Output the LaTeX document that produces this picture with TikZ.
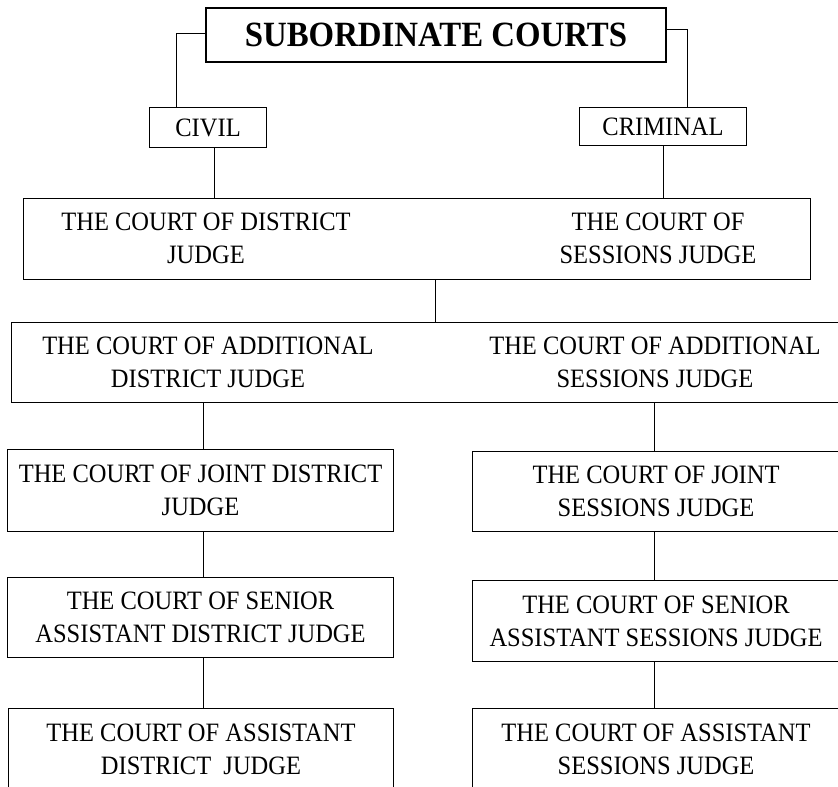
\documentclass[tikz,border=0pt]{standalone}
\usepackage{fontspec}
\setmainfont{Liberation Serif}[FakeStretch=0.925]
\begin{document}
\begin{tikzpicture}[x=1pt,y=-1pt,
  box/.style={draw, line width=1.1pt, rectangle, inner sep=0pt, anchor=north west,
              align=center, font=\fontsize{26.5}{33}\selectfont},
  lbl/.style={inner sep=0pt, align=center, font=\fontsize{26.5}{33}\selectfont},
  conn/.style={line width=1pt}]
\useasboundingbox (0,0) rectangle (838,787);
\clip (0,0) rectangle (838,787);
% guides
\coordinate (gbl) at (176,0);
\coordinate (gbr) at (687,0);
\coordinate (ybl) at (0,33);
\coordinate (ybr) at (0,29);
\coordinate (gc)  at (214,0);
\coordinate (gcr) at (663,0);
\coordinate (gm)  at (435,0);
\coordinate (gl)  at (203,0);
\coordinate (gr)  at (654,0);
% boxes
\node[box, line width=2pt, minimum width=460pt, minimum height=54pt,
      font=\fontsize{35.5}{40}\selectfont\bfseries] (title) at (205,7) {SUBORDINATE COURTS};
\node[box, minimum width=117pt, minimum height=40pt] (civil) at (149,107) {CIVIL};
\node[box, minimum width=167pt, minimum height=38pt] (criminal) at (579,107) {CRIMINAL};
\node[box, minimum width=787pt, minimum height=81pt] (b1) at (23,198) {};
\node[lbl] (t1l) at (206,238.5) {THE COURT OF DISTRICT\\JUDGE};
\node[lbl] (t1r) at (658,238.5) {THE COURT OF\\SESSIONS JUDGE};
\node[box, minimum width=828pt, minimum height=80pt] (b2) at (11,322) {};
\node[lbl] (t2l) at (208,362) {THE COURT OF ADDITIONAL\\DISTRICT JUDGE};
\node[lbl] (t2r) at (655,362) {THE COURT OF ADDITIONAL\\SESSIONS JUDGE};
\node[box, minimum width=386pt, minimum height=82pt] (b3l) at (7,449) {THE COURT OF JOINT DISTRICT\\JUDGE};
\node[box, minimum width=367pt, minimum height=80pt] (b3r) at (472,451) {THE COURT OF JOINT\\SESSIONS JUDGE};
\node[box, minimum width=386pt, minimum height=80pt] (b4l) at (7,577) {THE COURT OF SENIOR\\ASSISTANT DISTRICT JUDGE};
\node[box, minimum width=367pt, minimum height=81pt] (b4r) at (472,580) {THE COURT OF SENIOR\\ASSISTANT SESSIONS JUDGE};
\node[box, minimum width=385pt, minimum height=82pt] (b5l) at (8,708) {THE COURT OF ASSISTANT\\DISTRICT\ \ JUDGE};
\node[box, minimum width=367pt, minimum height=82pt] (b5r) at (472,708) {THE COURT OF ASSISTANT\\SESSIONS JUDGE};
% connectors
\draw[conn] (title.west |- ybl) -| (gbl |- civil.north);
\draw[conn] (title.east |- ybr) -| (gbr |- criminal.north);
\draw[conn] (gc |- civil.south) -- (gc |- b1.north);
\draw[conn] (gcr |- criminal.south) -- (gcr |- b1.north);
\draw[conn] (gm |- b1.south) -- (gm |- b2.north);
\draw[conn] (gl |- b2.south) -- (gl |- b3l.north);
\draw[conn] (gr |- b2.south) -- (gr |- b3r.north);
\draw[conn] (gl |- b3l.south) -- (gl |- b4l.north);
\draw[conn] (gr |- b3r.south) -- (gr |- b4r.north);
\draw[conn] (gl |- b4l.south) -- (gl |- b5l.north);
\draw[conn] (gr |- b4r.south) -- (gr |- b5r.north);
\end{tikzpicture}
\end{document}
